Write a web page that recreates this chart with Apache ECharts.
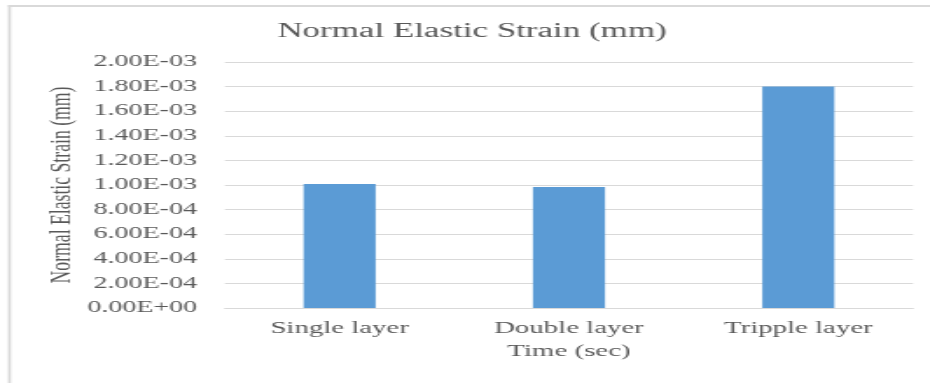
<!DOCTYPE html>
<html>
<head>
<meta charset="utf-8">
<script src="https://cdn.jsdelivr.net/npm/echarts@6/dist/echarts.min.js"></script>
<style>
  html, body { margin: 0; padding: 0; background: #fff; overflow: hidden; }
  /* the chart is laid out narrow and widened horizontally as a whole */
  #chart { width: 532px; height: 383px; transform: scaleX(1.748); transform-origin: 0 0; }
</style>
</head>
<body>
<div id="chart"></div>
<script>
const categories = ['Single layer', 'Double layer', 'Tripple layer'];
const strainValues = [1.008e-3, 0.984e-3, 1.80e-3];
const yMin = 0;
const yMax = 2.0e-3;
const yStep = 2.0e-4;

const FONT = '"Liberation Serif", "Times New Roman", serif';
const TEXT = '#595959';
const LINE = '#d9d9d9';

// 2.00E-03 style tick labels
function sci(v) {
  if (Math.abs(v) < 1e-12) return '0.00E+00';
  const parts = v.toExponential(2).split('e');
  const n = parseInt(parts[1], 10);
  return parts[0] + 'E' + (n < 0 ? '-' : '+') + String(Math.abs(n)).padStart(2, '0');
}

const chart = echarts.init(document.getElementById('chart'), null, { renderer: 'canvas' });
chart.setOption({
  animation: false,
  backgroundColor: '#fff',
  title: {
    text: 'Normal Elastic Strain (mm)',
    left: 265,
    top: 17,
    textAlign: 'center',
    textStyle: { fontFamily: FONT, fontSize: 20, fontWeight: 'normal', color: TEXT }
  },
  graphic: [
    { type: 'rect', shape: { x: 4.6, y: 5, width: 1.7, height: 378 }, style: { fill: LINE } },
    { type: 'rect', shape: { x: 4.6, y: 5, width: 530, height: 2 }, style: { fill: LINE } }
  ],
  grid: { left: 128.7, right: 9.7, top: 62, bottom: 75 },
  xAxis: {
    type: 'category',
    data: categories,
    name: 'Time (sec)',
    nameLocation: 'middle',
    nameGap: 35,
    nameTextStyle: { fontFamily: FONT, fontSize: 16.5, color: TEXT },
    axisLine: { lineStyle: { color: LINE, width: 1 } },
    axisTick: { show: false },
    axisLabel: { fontFamily: FONT, fontSize: 16.5, color: TEXT, margin: 12 }
  },
  yAxis: {
    type: 'value',
    min: yMin,
    max: yMax,
    interval: yStep,
    name: 'Normal Elastic Strain (mm)',
    nameLocation: 'middle',
    nameGap: 84,
    nameMoveOverlap: false,
    nameTextStyle: { fontFamily: FONT, fontSize: 17.7, color: TEXT },
    axisLine: { show: false },
    axisTick: { show: false },
    splitLine: { lineStyle: { color: LINE, width: 1 } },
    axisLabel: { fontFamily: FONT, fontSize: 16, color: TEXT, margin: 16, formatter: sci }
  },
  series: [{
    type: 'bar',
    data: strainValues,
    barWidth: '31.4%',
    itemStyle: { color: '#5b9bd5' }
  }]
});
</script>
</body>
</html>
